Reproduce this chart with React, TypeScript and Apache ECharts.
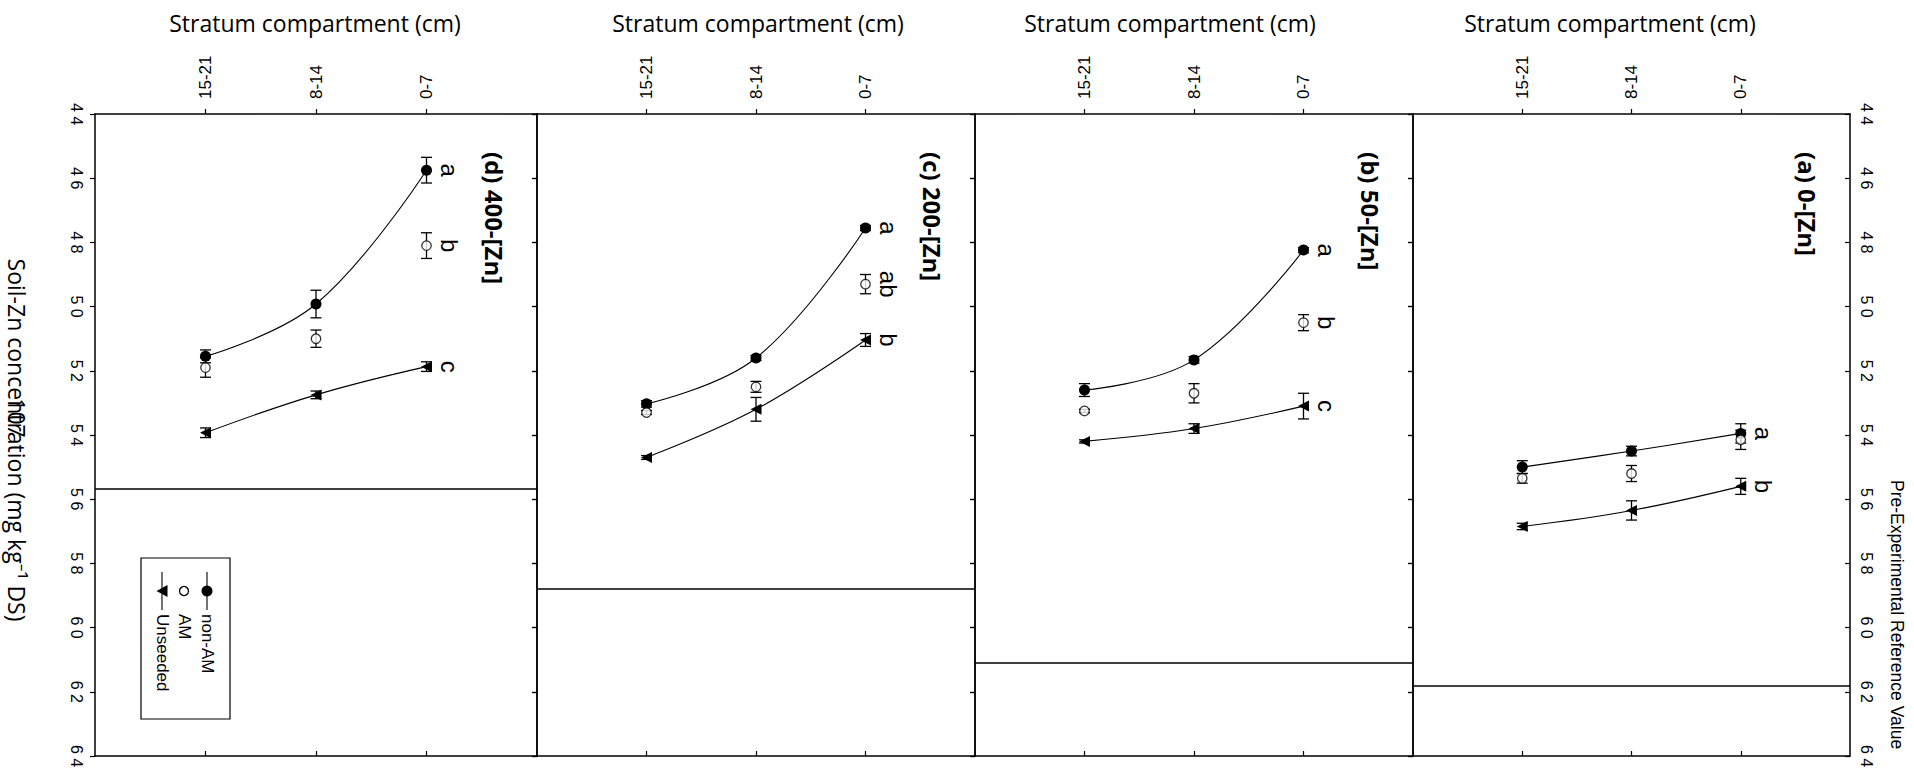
import React, { useEffect, useRef } from 'react';
import * as echarts from 'echarts';

// ---------- data ----------
const STRATA = ['15-21', '8-14', '0-7'];
const ZN_MIN = 44;
const ZN_MAX = 64;
const ZN_STEP = 2;
const LEGEND_NAMES = ['non-AM', 'AM', 'Unseeded'];

// panel (d) 400-[Zn]
const nonAM_d = [51.55, 49.92, 45.75];
const nonAMErr_d = [0.2, 0.43, 0.4];
const am_d = [51.9, 51.0, 48.1];
const amErr_d = [0.3, 0.27, 0.4];
const unseeded_d = [53.93, 52.75, 51.87];
const unseededErr_d = [0.15, 0.12, 0.15];
const ref_d = 55.68;
const letters_d = ['a', 'b', 'c'];

// panel (c) 200-[Zn]
const nonAM_c = [53.03, 51.6, 47.55];
const nonAMErr_c = [0.1, 0.08, 0.08];
const am_c = [53.3, 52.5, 49.3];
const amErr_c = [0.06, 0.17, 0.3];
const unseeded_c = [54.7, 53.2, 51.04];
const unseededErr_c = [0.06, 0.37, 0.2];
const ref_c = 58.8;
const letters_c = ['a', 'ab', 'b'];

// panel (b) 50-[Zn]
const nonAM_b = [52.6, 51.66, 48.24];
const nonAMErr_b = [0.2, 0.1, 0.08];
const am_b = [53.25, 52.7, 50.5];
const amErr_b = [0.05, 0.3, 0.25];
const unseeded_b = [54.2, 53.8, 53.1];
const unseededErr_b = [0.05, 0.15, 0.4];
const ref_b = 61.1;
const letters_b = ['a', 'b', 'c'];

// panel (a) 0-[Zn]
const nonAM_a = [55.0, 54.5, 53.95];
const nonAMErr_a = [0.2, 0.15, 0.3];
const am_a = [55.35, 55.2, 54.15];
const amErr_a = [0.15, 0.25, 0.3];
const unseeded_a = [56.85, 56.35, 55.6];
const unseededErr_a = [0.1, 0.3, 0.25];
const ref_a = 61.8;
const letters_a = ['a', '', 'b'];

const PANEL_TITLES = ['(d) 400-[Zn]', '(c) 200-[Zn]', '(b) 50-[Zn]', '(a) 0-[Zn]'];

const PANELS = [
  { title: PANEL_TITLES[0], nonAM: nonAM_d, nonAMErr: nonAMErr_d, am: am_d, amErr: amErr_d, un: unseeded_d, unErr: unseededErr_d, ref: ref_d, letters: letters_d },
  { title: PANEL_TITLES[1], nonAM: nonAM_c, nonAMErr: nonAMErr_c, am: am_c, amErr: amErr_c, un: unseeded_c, unErr: unseededErr_c, ref: ref_c, letters: letters_c },
  { title: PANEL_TITLES[2], nonAM: nonAM_b, nonAMErr: nonAMErr_b, am: am_b, amErr: amErr_b, un: unseeded_b, unErr: unseededErr_b, ref: ref_b, letters: letters_b },
  { title: PANEL_TITLES[3], nonAM: nonAM_a, nonAMErr: nonAMErr_a, am: am_a, amErr: amErr_a, un: unseeded_a, unErr: unseededErr_a, ref: ref_a, letters: letters_a },
];

// ---------- layout ----------
const W = 1914;
const H = 771;
const PANEL_LEFTS = [95, 537, 975, 1413];
const PANEL_RIGHT_END = 1850;
const GRID_TOP = 114;
const GRID_HEIGHT = 642;
const TITLE_X = [315, 758, 1170, 1610];
const ROT = -Math.PI / 2;
const SANS = 'Liberation Sans, Arial, sans-serif';
const OPEN = 'Open Sans, Noto Sans, sans-serif';

function buildOption() {
  const grids: any[] = [];
  const xAxes: any[] = [];
  const yAxes: any[] = [];
  const series: any[] = [];
  const graphics: any[] = [];
  const posOf = (k: number) => k + 1;

  PANELS.forEach((p, i) => {
    const left = PANEL_LEFTS[i];
    const right = i < 3 ? PANEL_LEFTS[i + 1] : PANEL_RIGHT_END;
    grids.push({ left, top: GRID_TOP, width: right - left, height: GRID_HEIGHT, show: false });

    const axisLine = { show: true, onZero: false, lineStyle: { color: '#000', width: 1.5 } };
    const tickLine = { color: '#000', width: 1.2 };
    xAxes.push({
      gridIndex: i, type: 'value', position: 'top', min: 0, max: 4, interval: 1,
      axisLine,
      axisTick: { show: true, inside: false, length: 5, customValues: [1, 2, 3], lineStyle: tickLine },
      axisLabel: {
        show: true, customValues: [1, 2, 3], rotate: -90, margin: 15, fontSize: 17, fontFamily: SANS, color: '#000',
        formatter: (v: number) => STRATA[Math.round(v) - 1] ?? '',
      },
      splitLine: { show: false },
    });
    xAxes.push({
      gridIndex: i, type: 'value', position: 'bottom', min: 0, max: 4, interval: 1,
      axisLine,
      axisTick: { show: true, inside: true, length: 5, customValues: [1, 2, 3], lineStyle: tickLine },
      axisLabel: { show: false },
      splitLine: { show: false },
    });
    const znFmt = (v: number) => String(v).split('').join(' ');
    yAxes.push({
      gridIndex: i, type: 'value', position: 'left', min: ZN_MIN, max: ZN_MAX, interval: ZN_STEP, inverse: true,
      axisLine,
      axisTick: { show: true, inside: false, length: 5, lineStyle: tickLine },
      axisLabel: { show: i === 0, rotate: -90, margin: 11, fontSize: 16, fontFamily: SANS, color: '#000', formatter: znFmt },
      splitLine: { show: false },
    });
    yAxes.push({
      gridIndex: i, type: 'value', position: 'right', min: ZN_MIN, max: ZN_MAX, interval: ZN_STEP, inverse: true,
      axisLine,
      axisTick: { show: true, inside: true, length: 5, lineStyle: tickLine },
      axisLabel: { show: i === 3, rotate: -90, margin: 8, fontSize: 16, fontFamily: SANS, color: '#000', formatter: znFmt },
      splitLine: { show: false },
    });

    const ax = { xAxisIndex: 2 * i, yAxisIndex: 2 * i };

    // error bars
    const errData: number[][] = [];
    STRATA.forEach((_, k) => {
      errData.push([posOf(k), p.nonAM[k], p.nonAMErr[k]]);
      errData.push([posOf(k), p.am[k], p.amErr[k]]);
      errData.push([posOf(k), p.un[k], p.unErr[k]]);
    });
    series.push({
      type: 'custom', ...ax, z: 2, silent: true,
      data: errData,
      encode: { x: 0, y: 1 },
      renderItem: (params: any, api: any) => {
        const x = api.value(0);
        const v = api.value(1);
        const e = api.value(2);
        const a = api.coord([x, v - e]);
        const b = api.coord([x, v + e]);
        const cap = 5.5;
        const st = { stroke: '#000', lineWidth: 1.3 };
        return {
          type: 'group',
          children: [
            { type: 'line', shape: { x1: a[0], y1: a[1], x2: b[0], y2: b[1] }, style: st },
            { type: 'line', shape: { x1: a[0] - cap, y1: a[1], x2: a[0] + cap, y2: a[1] }, style: st },
            { type: 'line', shape: { x1: b[0] - cap, y1: b[1], x2: b[0] + cap, y2: b[1] }, style: st },
          ],
        };
      },
    });

    // non-AM
    series.push({
      name: LEGEND_NAMES[0], type: 'line', ...ax, z: 3, smooth: 0.4,
      data: STRATA.map((_, k) => [posOf(k), p.nonAM[k]]),
      symbol: 'circle', symbolSize: 11, showSymbol: true,
      lineStyle: { color: '#000', width: 1.1 },
      itemStyle: { color: '#000' },
      markLine: {
        silent: true, symbol: ['none', 'none'], label: { show: false },
        lineStyle: { color: '#000', width: 1.5, type: 'solid' },
        data: [{ yAxis: p.ref }],
      },
    });
    // Unseeded
    series.push({
      name: LEGEND_NAMES[2], type: 'line', ...ax, z: 3, smooth: 0.4,
      data: STRATA.map((_, k) => [posOf(k), p.un[k]]),
      symbol: 'triangle', symbolRotate: 90, symbolSize: 11, showSymbol: true,
      lineStyle: { color: '#000', width: 1.1 },
      itemStyle: { color: '#000' },
    });
    // AM
    series.push({
      name: LEGEND_NAMES[1], type: 'scatter', ...ax, z: 4,
      data: STRATA.map((_, k) => [posOf(k), p.am[k]]),
      symbol: 'circle', symbolSize: 9.5,
      itemStyle: { color: '#fff', borderColor: '#000', borderWidth: 1.3 },
    });
    // significance letters at 0-7
    const last = STRATA.length - 1;
    const vals = [p.nonAM[last], p.am[last], p.un[last]];
    const letterData: any[] = [];
    const letterText: string[] = [];
    p.letters.forEach((l, j) => {
      if (l) {
        letterData.push([posOf(last), vals[j]]);
        letterText.push(l);
      }
    });
    series.push({
      type: 'custom', ...ax, z: 5, silent: true,
      data: letterData,
      encode: { x: 0, y: 1 },
      renderItem: (params: any, api: any) => {
        const pt = api.coord([api.value(0), api.value(1)]);
        return {
          type: 'text', x: pt[0] + 23, y: pt[1], rotation: ROT,
          style: { text: letterText[params.dataIndex], fontSize: 24, fontFamily: SANS, fill: '#000', align: 'center', verticalAlign: 'middle' },
        };
      },
    });

    // panel titles
    graphics.push({
      type: 'text', x: right - 43, y: 152, rotation: ROT,
      style: { text: p.title, fontSize: 24, fontWeight: 'bold', fontFamily: OPEN, fill: '#000', align: 'left', verticalAlign: 'middle' },
    });
    graphics.push({
      type: 'text', x: TITLE_X[i], y: 23,
      style: { text: 'Stratum compartment (cm)', fontSize: 23, fontFamily: OPEN, fill: '#000', align: 'center', verticalAlign: 'middle' },
    });
  });

  // axis titles
  graphics.push({
    type: 'text', x: 17, y: 440, rotation: ROT,
    style: { text: 'Soil-Zn concentration (mg kg⁻¹ DS)', fontSize: 23, fontFamily: OPEN, fill: '#000', align: 'center', verticalAlign: 'middle' },
  });
  graphics.push({
    type: 'text', x: 17, y: 418, rotation: ROT,
    style: { text: '107', fontSize: 23, fontFamily: OPEN, fill: '#000', align: 'center', verticalAlign: 'middle' },
  });
  graphics.push({
    type: 'text', x: 1897, y: 480, rotation: ROT,
    style: { text: 'Pre-Experimental Reference Value', fontSize: 17.5, fontFamily: SANS, fill: '#000', align: 'left', verticalAlign: 'middle' },
  });

  // legend box
  const lg = { x: 141, y: 558, w: 89, h: 161 };
  graphics.push({ type: 'rect', shape: { x: lg.x, y: lg.y, width: lg.w, height: lg.h }, style: { fill: '#fff', stroke: '#000', lineWidth: 1.2 }, z: 10 });
  const cols = [207, 184, 162];
  const sy = 591;
  // non-AM
  graphics.push({ type: 'line', shape: { x1: cols[0], y1: 572, x2: cols[0], y2: 610 }, style: { stroke: '#000', lineWidth: 1.1 }, z: 11 });
  graphics.push({ type: 'circle', shape: { cx: cols[0], cy: sy, r: 5.5 }, style: { fill: '#000' }, z: 12 });
  // AM
  graphics.push({ type: 'circle', shape: { cx: cols[1], cy: sy, r: 4.5 }, style: { fill: '#fff', stroke: '#000', lineWidth: 1.3 }, z: 12 });
  // Unseeded
  graphics.push({ type: 'line', shape: { x1: cols[2], y1: 572, x2: cols[2], y2: 610 }, style: { stroke: '#000', lineWidth: 1.1 }, z: 11 });
  graphics.push({ type: 'polygon', shape: { points: [[cols[2] - 5.5, sy], [cols[2] + 5.5, sy - 6], [cols[2] + 5.5, sy + 6]] }, style: { fill: '#000' }, z: 12 });
  LEGEND_NAMES.forEach((n, j) => {
    graphics.push({
      type: 'text', x: cols[j], y: 614, rotation: ROT, z: 12,
      style: { text: n, fontSize: 17, fontFamily: SANS, fill: '#000', align: 'left', verticalAlign: 'middle' },
    });
  });

  return {
    animation: false,
    backgroundColor: '#fff',
    grid: grids,
    xAxis: xAxes,
    yAxis: yAxes,
    series,
    graphic: { elements: graphics },
  };
}

export default function App() {
  const ref = useRef<HTMLDivElement>(null);
  useEffect(() => {
    document.body.style.margin = '0';
    const chart = echarts.init(ref.current!, null, { renderer: 'svg' });
    chart.setOption(buildOption() as any);
    return () => chart.dispose();
  }, []);
  return <div ref={ref} style={{ width: W, height: H }} />;
}
